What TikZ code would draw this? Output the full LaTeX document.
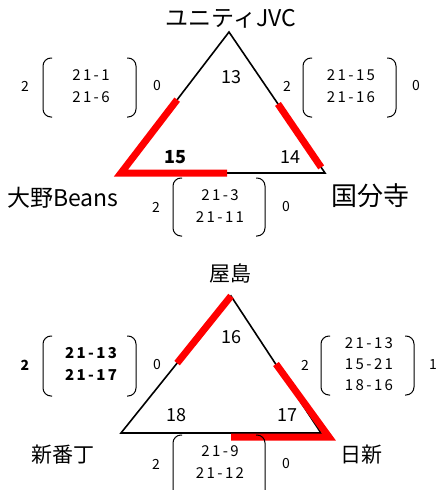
\documentclass[tikz,border=0pt]{standalone}
\usepackage{fontspec}
\setmainfont{Noto Sans CJK JP}
\usetikzlibrary{calc}
\newcommand\lpar[3]{\draw[paren] (#1+9,#2) -- (#1,#2) -- (#1,#3) -- (#1+9,#3);}
\newcommand\rpar[3]{\draw[paren] (#1-9,#2) -- (#1,#2) -- (#1,#3) -- (#1-9,#3);}
\begin{document}
\begin{tikzpicture}[x=1pt,y=-1pt,
  edge/.style={line width=1.6pt,line join=miter},
  redline/.style={red,line width=7pt,line join=miter},
  team/.style={font=\fontsize{21}{21}\selectfont, inner sep=0},
  wideteam/.style={font=\fontsize{23}{23}\selectfont, inner sep=0},
  bigteam/.style={font=\fontsize{26}{26}\selectfont, inner sep=0},
  pts/.style={font=\fontsize{18}{18}\selectfont, inner sep=0},
  score/.style={font=\fontsize{15}{22}\selectfont\addfontfeature{LetterSpace=16}, align=center, inner sep=0},
  sets/.style={font=\fontsize{14}{14}\selectfont, inner sep=0},
  paren/.style={line width=1pt, rounded corners=8pt}]
\useasboundingbox (0,0) rectangle (436,490);

% ---------- top triangle ----------
\coordinate (A1) at (229,32);
\coordinate (B1) at (121,173);
\coordinate (C1) at (325,173);
\draw[edge] (A1) -- (B1) -- (C1) -- cycle;
\draw[redline] ($(B1)!0.52!(A1)$) -- (B1) -- ($(B1)!0.52!(C1)$);
\draw[redline] ($(C1)!0.49!(A1)$) -- ($(C1)!0.04!(A1)$);

\node[wideteam] (t1) at (231,19) {ユニティJVC};
\node[wideteam] (t2) at (63,198) {大野Beans};
\node[bigteam] (t3) at (370,196) {国分寺};
\node[pts] (p1) at (231,77) {13};
\node[pts,font=\fontsize{18}{18}\selectfont\bfseries] (p2) at (175,157) {15};
\node[pts] (p3) at (290,157) {14};

% score: unity - oono
\node[sets] (s1a) at (25,86) {2};
\lpar{43}{58}{117}
\node[score] (s1) at (91,86) {21-1\\21-6};
\rpar{136}{58}{117}
\node[sets] (s1b) at (157,86) {0};

% score: unity - kokubunji
\node[sets] (s2a) at (287,86) {2};
\lpar{303}{58}{117}
\node[score] (s2) at (351,86) {21-15\\21-16};
\rpar{396}{58}{117}
\node[sets] (s2b) at (416,86) {0};

% score: oono - kokubunji
\node[sets] (s3a) at (156,207) {2};
\lpar{173}{178}{236}
\node[score] (s3) at (220,206) {21-3\\21-11};
\rpar{265}{178}{236}
\node[sets] (s3b) at (286,207) {0};

% ---------- bottom triangle ----------
\coordinate (A2) at (231,296);
\coordinate (B2) at (121,433);
\coordinate (C2) at (321,433);
\coordinate (R1) at (276,364);
\coordinate (R2) at (329,437);
\coordinate (R3) at (231,437);
\draw[edge] (A2) -- (B2) -- (C2) -- cycle;
\draw[redline] (A2) -- ($(A2)!0.49!(B2)$);
\draw[redline] (R1) -- (R2) -- (R3);

\node[team] (u1) at (230,273) {屋島};
\node[team] (u2) at (63,455) {新番丁};
\node[team] (u3) at (361,455) {日新};
\node[pts] (q1) at (231,337) {16};
\node[pts] (q2) at (176,415) {18};
\node[pts] (q3) at (287,415) {17};

% score: yashima - shinbancho
\node[sets,font=\fontsize{14}{14}\selectfont\bfseries] (v1a) at (25,365) {2};
\lpar{43}{336}{396}
\node[score,font=\fontsize{15}{22}\selectfont\bfseries\addfontfeature{LetterSpace=16}] (v1) at (91,364) {21-13\\21-17};
\rpar{136}{336}{396}
\node[sets] (v1b) at (157,365) {0};

% score: yashima - nisshin
\node[sets] (v2a) at (305,365) {2};
\lpar{321}{336}{395}
\node[score,font=\fontsize{15}{21}\selectfont\addfontfeature{LetterSpace=16}] (v2) at (369,364) {21-13\\15-21\\18-16};
\rpar{414}{336}{395}
\node[sets] (v2b) at (433,365) {1};

% score: shinbancho - nisshin
\node[sets] (v3a) at (156,464) {2};
\lpar{173}{435}{500}
\node[score] (v3) at (220,462) {21-9\\21-12};
\rpar{265}{435}{500}
\node[sets] (v3b) at (286,464) {0};
\end{tikzpicture}
\end{document}
